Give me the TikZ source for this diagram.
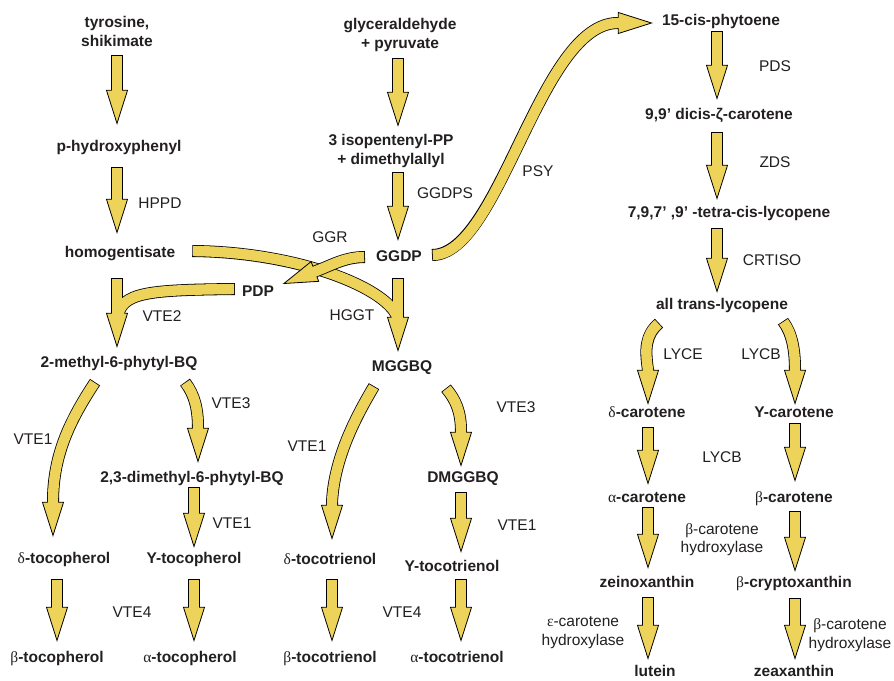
\documentclass[tikz,border=0pt]{standalone}
\usepackage{fontspec}
\setmainfont{Liberation Sans}
\newfontfamily\grkfont{Liberation Serif}
\usetikzlibrary{arrows.meta, calc}

\definecolor{arrowyellow}{RGB}{237,211,90}
\definecolor{inkgray}{RGB}{35,31,32}
\newcommand{\gk}[1]{{\grkfont\mdseries #1}}

\tikzset{
  chem/.style={font=\fontsize{15.5}{19}\selectfont\bfseries, text=inkgray, inner sep=0pt, text height=11pt, text depth=3pt},
  chemtwo/.style={font=\fontsize{15.5}{19}\selectfont\bfseries, text=inkgray, inner sep=0pt, align=center},
  enz/.style={font=\fontsize{15.5}{18.5}\selectfont, text=inkgray, inner sep=0pt, align=center},
  fatline/.style={line width=12pt, draw=black, -{Triangle[length=35pt, width=22pt, line width'=0.8pt, fill=arrowyellow]}},
  fatfill/.style={line width=10.4pt, draw=arrowyellow, shorten <=0.8pt, shorten >=32pt},
  bandline/.style={line width=12pt, draw=black},
  bandfill/.style={line width=10.4pt, draw=arrowyellow, shorten <=0.8pt}
}
\newcommand{\fatarrow}[1]{\draw[fatline] #1; \draw[fatfill] #1;}
\newcommand{\mergearrow}[2]{\draw[bandline] #1; \draw[fatline] #2; \draw[bandfill] #1; \draw[fatfill] #2;}

\begin{document}
\begin{tikzpicture}[x=1pt, y=-1pt]
\useasboundingbox (0,0) rectangle (894,680);

% tocopherols
\node[chemtwo] (tyr) at (117,31.5) {tyrosine,\\shikimate};
\node[chem] (phx) at (119,147.5) {p-hydroxyphenyl};
\node[chem] (hgs) at (120,253.5) {homogentisate};
\node[chem] (pdp) at (258,292.5) {PDP};
\node[chem] (mpbq) at (119,363.5) {2-methyl-6-phytyl-BQ};
\node[chem] (dmpbq) at (192,478.5) {2,3-dimethyl-6-phytyl-BQ};
\node[chem] (dtoc) at (64,559.5) {\gk{δ}-tocopherol};
\node[chem] (gtoc) at (194,559.5) {Y-tocopherol};
\node[chem] (btoc) at (57,658.5) {\gk{β}-tocopherol};
\node[chem] (atoc) at (190,658.5) {\gk{α}-tocopherol};

% tocotrienols
\node[chemtwo] (gap) at (400,35) {glyceraldehyde\\+ pyruvate};
\node[chemtwo] (ipp) at (391,151.2) {3 isopentenyl-PP\\+ dimethylallyl};
\node[chem] (ggdp) at (399,257.5) {GGDP};
\node[chem] (mggbq) at (402,367.5) {MGGBQ};
\node[chem] (dmggbq) at (463,478.5) {DMGGBQ};
\node[chem] (dtcn) at (330,560.5) {\gk{δ}-tocotrienol};
\node[chem] (gtcn) at (452,567.5) {Y-tocotrienol};
\node[chem] (btcn) at (330,658.5) {\gk{β}-tocotrienol};
\node[chem] (atcn) at (457,658.5) {\gk{α}-tocotrienol};

% carotenoids
\node[chem] (phy) at (721,21.5) {15-cis-phytoene};
\node[chem] (zcar) at (719,115.5) {9,9’ dicis-ζ-carotene};
\node[chem] (tlyc) at (729,213.5) {7,9,7’ ,9’ -tetra-cis-lycopene};
\node[chem] (alyc) at (722,305.5) {all trans-lycopene};
\node[chem] (dcar) at (647,413.5) {\gk{δ}-carotene};
\node[chem] (gcar) at (794,413.5) {Y-carotene};
\node[chem] (acar) at (647,498.5) {\gk{α}-carotene};
\node[chem] (bcar) at (794,498.5) {\gk{β}-carotene};
\node[chem] (zein) at (647,583.5) {zeinoxanthin};
\node[chem] (bcry) at (794,583.5) {\gk{β}-cryptoxanthin};
\node[chem] (lut) at (655,672.5) {lutein};
\node[chem] (zea) at (794,672.5) {zeaxanthin};

% enzymes
\node[enz] (hppd) at (160,203) {HPPD};
\node[enz] (vteb) at (162,316) {VTE2};
\node[enz] (ggr) at (330,237) {GGR};
\node[enz] (ggdps) at (445,193) {GGDPS};
\node[enz] (hggt) at (352,315) {HGGT};
\node[enz] (psy) at (538,171) {PSY};
\node[enz] (vtea) at (33,439) {VTE1};
\node[enz] (vtec) at (231,403) {VTE3};
\node[enz] (vtea2) at (232,523) {VTE1};
\node[enz] (vted) at (132,612) {VTE4};
\node[enz] (vtea3) at (307,446) {VTE1};
\node[enz] (vtec2) at (516,407) {VTE3};
\node[enz] (vtea4) at (517,525) {VTE1};
\node[enz] (vted2) at (402,612) {VTE4};
\node[enz] (pds) at (775,66) {PDS};
\node[enz] (zds) at (775,162) {ZDS};
\node[enz] (crtiso) at (772,260) {CRTISO};
\node[enz] (lyce) at (683,354) {LYCE};
\node[enz] (lycb) at (761,354) {LYCB};
\node[enz] (lycb2) at (722,457) {LYCB};
\node[enz] (bch) at (722,539.5) {\gk{β}-carotene\\hydroxylase};
\node[enz] (ech) at (583,632.5) {\gk{ε}-carotene\\hydroxylase};
\node[enz] (bch2) at (850,635) {\gk{β}-carotene\\hydroxylase};

% straight steps
\fatarrow{($(tyr.south)+(0,8.5)$) -- ($(phx.north)+(-2,-15.5)$)}
\fatarrow{($(phx.south)+(-2,12.5)$) -- ($(hgs.north)+(-3,-12.5)$)}
\fatarrow{($(gap.south)+(-2,6.2)$) -- ($(ipp.north)+(7,-7.5)$)}
\fatarrow{($(ipp.south)+(7,4.2)$) -- ($(ggdp.north)+(-1,-9.5)$)}
\fatarrow{($(dmpbq.south)+(2,1.5)$) -- ($(gtoc.north)+(0,-4.5)$)}
\fatarrow{($(dtoc.south)+(-7,12.5)$) -- ($(btoc.north)+(0,-9.5)$)}
\fatarrow{($(gtoc.south)+(0,12.5)$) -- ($(atoc.north)+(4,-9.5)$)}
\fatarrow{($(dmggbq.south)+(-2,6.5)$) -- ($(gtcn.north)+(9,-7.5)$)}
\fatarrow{($(dtcn.south)+(2,11.5)$) -- ($(btcn.north)+(2,-9.5)$)}
\fatarrow{($(gtcn.south)+(9,4.5)$) -- ($(atcn.north)+(4,-9.5)$)}
\fatarrow{($(phy.south)+(-4,2.5)$) -- ($(zcar.north)+(-2,-8.5)$)}
\fatarrow{($(zcar.south)+(-2,9.5)$) -- ($(tlyc.north)+(-12,-6.5)$)}
\fatarrow{($(tlyc.south)+(-12,7.5)$) -- ($(alyc.north)+(-5,-5.5)$)}
\fatarrow{($(dcar.south)+(1,6.5)$) -- ($(acar.north)+(1,-6.5)$)}
\fatarrow{($(gcar.south)+(1,2.5)$) -- ($(bcar.north)+(1,-9.5)$)}
\fatarrow{($(acar.south)+(1,1.5)$) -- ($(zein.north)+(1,-7.5)$)}
\fatarrow{($(bcar.south)+(1,5.5)$) -- ($(bcry.north)+(1,-4.5)$)}
\fatarrow{($(zein.south)+(1,6.5)$) -- ($(lut.north)+(-7,-5.5)$)}
\fatarrow{($(bcry.south)+(1,7.5)$) -- ($(zea.north)+(1,-5.5)$)}

% bent steps
\fatarrow{($(mpbq.south)+(-24,11.5)$) .. controls +(-25,38) and +(0,-47) .. ($(dtoc.north)+(-11,-50.5)$) -- +(0,35)}
\fatarrow{($(mpbq.south)+(66,11.5)$) .. controls +(10,13) and +(0,-18) .. ($(dmpbq.north)+(6,-43.5)$) -- +(0,35)}
\fatarrow{($(mggbq.south)+(-28,11.5)$) .. controls +(-14,24) and +(2,-48) .. ($(dtcn.north)+(2,-50.5)$) -- +(0,37)}
\fatarrow{($(mggbq.south)+(44,13.5)$) .. controls +(10,12) and +(0,-20) .. ($(dmggbq.north)+(-2,-39.5)$) -- +(0,35)}
\fatarrow{($(alyc.south)+(-63,10.5)$) .. controls +(-14,12) and +(-3,-20) .. ($(dcar.north)+(1,-36.5)$) -- +(0,35)}
\fatarrow{($(alyc.south)+(61,8.5)$) .. controls +(9,12) and +(0,-20) .. ($(gcar.north)+(1,-36.5)$) -- +(0,35)}

% side chains joining the main arrows
\mergearrow{($(pdp.west)+(-7,-3.5)$) .. controls +(-85,1) and +(2,-26) .. ($(mpbq.north)+(-1,-38.5)$)}{($(hgs.south)+(-3,17.5)$) -- ($(mpbq.north)+(-2,-8.5)$)}
\mergearrow{($(hgs.east)+(17,-2.5)$) .. controls +(108,1) and +(-6,-30) .. ($(mggbq.north)+(-4,-40.5)$)}{($(ggdp.south)+(-1,13.5)$) -- ($(mggbq.north)+(-4,-8.5)$)}

% GGR and PSY
\fatarrow{($(ggdp.west)+(-11,-0.5)$) .. controls +(-20,0) and +(16,-6) .. ($(pdp.east)+(42,-21.5)$) -- +(-33.5,13)}
\fatarrow{($(ggdp.east)+(10,-2.5)$) .. controls +(68,0) and +(-78,0) .. ($(phy.west)+(-44,1.5)$) -- +(35,0)}
\end{tikzpicture}
\end{document}
